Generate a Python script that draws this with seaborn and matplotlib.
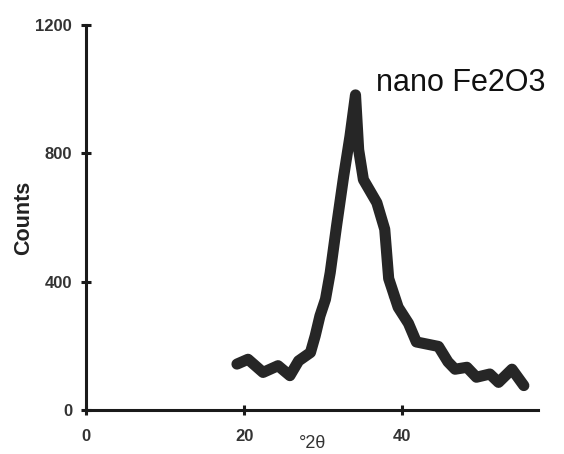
import numpy as np
import pandas as pd
import seaborn as sns
import matplotlib.pyplot as plt

# ---------------------------------------------------------
# XRD trace (nano Fe2O3)
# ---------------------------------------------------------
two_theta = [19.1, 20.5, 22.4, 24.3, 25.8, 26.9, 28.4, 29.0, 29.6, 30.3,
             30.9, 31.7, 32.6, 33.4, 34.1, 34.5, 35.1, 36.8, 37.8, 38.3,
             38.3, 39.5, 40.8, 41.8, 43.6, 44.6, 45.8, 46.7, 48.2, 49.4,
             51.1, 52.2, 53.9, 55.4]
counts = [143, 158, 117, 138, 107, 153, 179, 231, 293, 345,
          428, 573, 728, 853, 982, 811, 718, 646, 563, 469,
          350, 320, 270, 212, 203, 198, 150, 127, 133, 102,
          112, 86, 127, 76]

x_ticks = [0, 20, 40]
y_ticks = [0, 400, 800, 1200]

df = pd.DataFrame({"two_theta": two_theta, "counts": counts})

# ---------------------------------------------------------
# Styling
# ---------------------------------------------------------
sns.set_style("ticks")
plt.rcParams["font.family"] = ["Liberation Sans", "DejaVu Sans"]

fig = plt.figure(figsize=(5.64, 4.54), dpi=100)
ax = fig.add_axes([0.1525, 0.097, 0.8015, 0.848])

sns.lineplot(data=df, x="two_theta", y="counts", ax=ax, color="#1a1a1a",
             linewidth=8, solid_capstyle="round", solid_joinstyle="round",
             alpha=0.95)

ax.set_xlim(0, 57.2)
ax.set_ylim(0, 1200)
ax.set_xticks(x_ticks)
ax.set_yticks(y_ticks)
sns.despine(ax=ax)
for side in ["left", "bottom"]:
    ax.spines[side].set_linewidth(2.2)
    ax.spines[side].set_color("#1a1a1a")
    ax.spines[side].set_clip_on(False)

ax.tick_params(direction="inout", length=7, width=2.2, colors="#1a1a1a",
               labelsize=12)
ax.tick_params(axis="y", pad=6.5)
ax.tick_params(axis="x", pad=10)
for lab in ax.get_xticklabels() + ax.get_yticklabels():
    lab.set_fontweight("bold")
    lab.set_color("#333333")

ax.set_ylabel("Counts", fontsize=15.5, fontweight="bold", color="#222222",
              labelpad=1)
ax.set_xlabel("°2θ", fontsize=13, color="#333333", labelpad=-6)

ax.text(36.7, 993, "nano Fe2O3", fontsize=22, color="#111111",
        ha="left", va="baseline")

plt.savefig("out.png", dpi=100)
plt.close()
